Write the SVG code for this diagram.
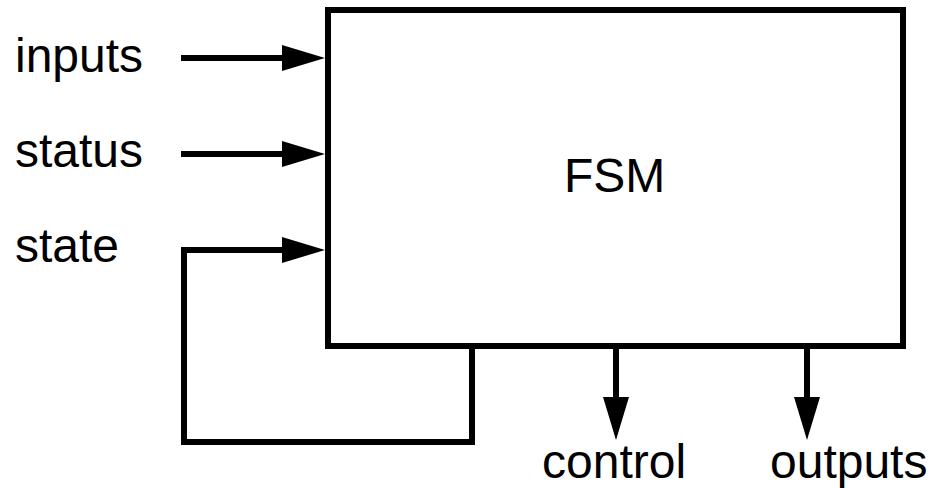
<svg xmlns="http://www.w3.org/2000/svg" width="932" height="488" viewBox="0 0 932 488">
<style>
text{font-family:"Liberation Sans",Arial,sans-serif;font-size:48px;fill:#000}
.ln{fill:none;stroke:#000;stroke-width:6}
</style>
<defs>
<marker id="ah" viewBox="0 0 43 26" refX="0" refY="13" markerWidth="43" markerHeight="26" markerUnits="userSpaceOnUse" orient="auto">
<path d="M0,0 L43,13 L0,26 Z" fill="#000"/>
</marker>
</defs>
<g id="fsm">
<rect x="328" y="10" width="575" height="336" class="ln"/>
<text x="564" y="192">FSM</text>
</g>
<g id="inputs"><text x="15" y="72">inputs</text></g>
<g id="status"><text x="15" y="167">status</text></g>
<g id="state"><text x="15" y="262">state</text></g>
<g id="control"><text x="542" y="478">control</text></g>
<g id="outputs"><text x="770" y="478">outputs</text></g>
<g id="connectors">
<line x1="181" y1="58" x2="282" y2="58" class="ln" marker-end="url(#ah)"/>
<line x1="181" y1="154" x2="282" y2="154" class="ln" marker-end="url(#ah)"/>
<polyline points="472,346 472,442 184,442 184,250 282,250" class="ln" marker-end="url(#ah)"/>
<line x1="616" y1="349" x2="616" y2="397" class="ln" marker-end="url(#ah)"/>
<line x1="807" y1="349" x2="807" y2="397" class="ln" marker-end="url(#ah)"/>
</g>
</svg>
